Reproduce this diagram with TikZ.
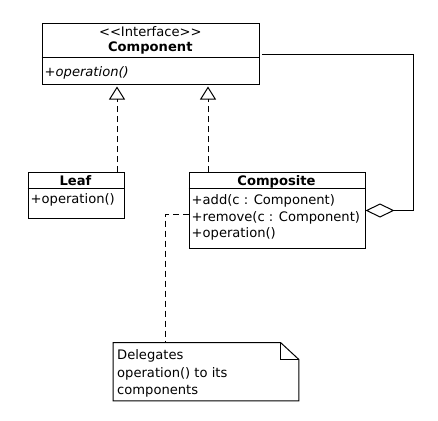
\documentclass[tikz,border=0pt]{standalone}
\usepackage{fontspec}
\setmainfont{DejaVu Sans}
\usetikzlibrary{arrows.meta}
\begin{document}
\begin{tikzpicture}[x=1pt,y=-1pt,
  box/.style={draw,line width=1pt,anchor=north west,inner sep=0pt},
  txt/.style={inner sep=0pt,font=\fontsize{13.1}{15}\selectfont},
  ctxt/.style={txt,anchor=base},
  ltxt/.style={txt,anchor=base west},
  dash line/.style={line width=1pt,dash pattern=on 6pt off 4pt},
  solid line/.style={line width=1pt},
  realize/.style={dash line,-{Triangle[open,length=13pt,width=16pt,line width=1pt]},shorten >=2pt},
  aggr/.style={solid line,-{Diamond[open,length=29pt,width=14pt,line width=1pt]}}]
\useasboundingbox (0,0) rectangle (438,420);
% Component
\node[box,minimum width=217.5pt,minimum height=60pt] (comp) at (41.5,23.5) {};
\draw[solid line] (41.5,57.5) -- (259,57.5);
\node[ctxt] (compst) at (150.3,36.5) {<\kern0pt<Interface>\kern0pt>};
\node[ctxt,font=\fontsize{13.1}{15}\selectfont\bfseries] (compname) at (150.3,52) {Component};
\node[ltxt,font=\fontsize{13.1}{15}\selectfont\itshape] (compop) at (44.5,76.5) {+operation()};
% Leaf
\node[box,minimum width=96pt,minimum height=46pt] (leaf) at (27.5,172) {};
\draw[solid line] (27.5,188.5) -- (123.5,188.5);
\node[ctxt,font=\fontsize{13.1}{15}\selectfont\bfseries] (leafname) at (75.5,185) {Leaf};
\node[ltxt] (leafop) at (30.5,203.5) {+operation()};
% Composite
\node[box,minimum width=176pt,minimum height=76pt] (cmp) at (188.5,172) {};
\draw[solid line] (188.5,188.5) -- (364.5,188.5);
\node[ctxt,font=\fontsize{13.1}{15}\selectfont\bfseries] (cmpname) at (276.5,185) {Composite};
\node[ltxt] (cmpadd) at (191.5,204.5) {+add(c : Component)};
\node[ltxt] (cmprem) at (191.5,221) {+remove(c : Component)};
\node[ltxt] (cmpop) at (191.5,237.5) {+operation()};
% Note
\node[anchor=north west,inner sep=0pt,minimum width=185.5pt,minimum height=58pt] (note) at (113,342.5) {};
\draw[solid line] (note.north west) -- (280.5,342.5) -- (note.north east |- 0,359.5) -- (note.south east) -- (note.south west) -- cycle;
\draw[solid line] (280.5,342.5) -- (280.5,359.5) -- (note.north east |- 0,359.5);
\node[ltxt] (n1) at (117,359.5) {Delegates};
\node[ltxt] (n2) at (117,377) {operation() to its};
\node[ltxt] (n3) at (117,394.5) {components};
% connectors
\coordinate (xa) at (117,0);
\coordinate (xb) at (208,0);
\draw[realize] (xa |- leaf.north) -- (xa |- comp.south);
\draw[realize] (xb |- cmp.north) -- (xb |- comp.south);
\coordinate (ag0) at (262,54.5);
\coordinate (ag1) at (413,54.5);
\coordinate (ag2) at (413,210.5);
\draw[aggr] (ag0) -- (ag1) -- (ag2) -- (cmp.east |- ag2);
\coordinate (nb) at (165,214);
\draw[dash line] (cmp.west |- nb) -- (nb) -- (nb |- note.north);
\end{tikzpicture}
\end{document}
